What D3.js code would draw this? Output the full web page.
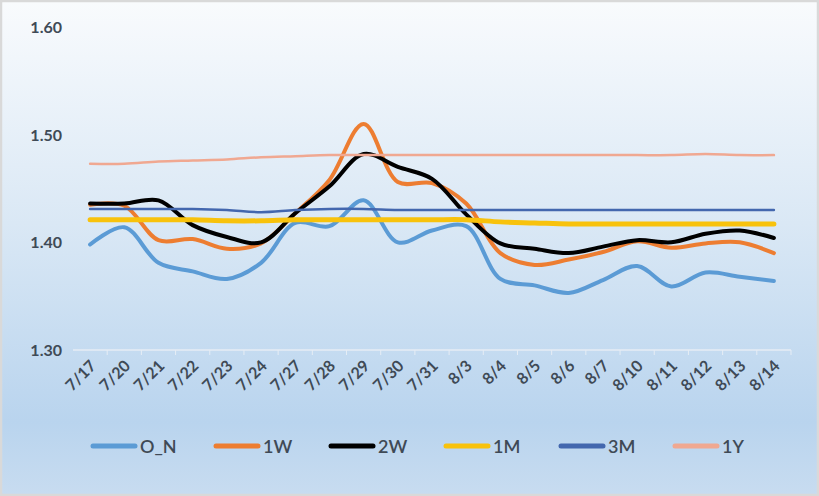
<!DOCTYPE html>
<html lang="en">
<head>
    <meta charset="UTF-8">
    <title>Rates</title>
    <script src="https://d3js.org/d3.v7.min.js"></script>
    <style>
        body { margin: 0; }
        svg { display: block; }
        .tick-y, .tick-x { font-family: Lato, "Open Sans", sans-serif; font-weight: bold; fill: #3f4a56; }
        .legend text { font-family: Lato, "Open Sans", sans-serif; fill: #3f4a56; }
    </style>
</head>
<body>
    <svg width="819" height="496"></svg>
    <script>
        const dates = ["7/17","7/20","7/21","7/22","7/23","7/24","7/27","7/28","7/29","7/30","7/31",
                       "8/3","8/4","8/5","8/6","8/7","8/10","8/11","8/12","8/13","8/14"];
        const yTicks = [1.30, 1.40, 1.50, 1.60];

        const on = [1.398,1.414,1.381,1.373,1.366,1.381,1.418,1.415,1.439,1.400,1.411,
                    1.415,1.366,1.360,1.353,1.365,1.378,1.359,1.372,1.368,1.364];
        const w1 = [1.435,1.434,1.402,1.403,1.394,1.399,1.427,1.458,1.510,1.456,1.455,
                    1.436,1.390,1.379,1.384,1.391,1.401,1.395,1.399,1.400,1.390];
        const w2 = [1.436,1.436,1.439,1.416,1.405,1.400,1.427,1.452,1.482,1.470,1.459,
                    1.426,1.399,1.394,1.390,1.396,1.402,1.400,1.408,1.411,1.404];
        const m1 = [1.421,1.421,1.421,1.421,1.420,1.420,1.421,1.421,1.421,1.421,1.421,
                    1.421,1.419,1.418,1.417,1.417,1.417,1.417,1.417,1.417,1.417];
        const m3 = [1.431,1.431,1.431,1.431,1.430,1.428,1.430,1.431,1.431,1.430,1.430,
                    1.430,1.430,1.430,1.430,1.430,1.430,1.430,1.430,1.430,1.430];
        const y1 = [1.473,1.473,1.475,1.476,1.477,1.479,1.480,1.481,1.481,1.481,1.481,
                    1.481,1.481,1.481,1.481,1.481,1.481,1.481,1.482,1.481,1.481];

        const series = [
            {name: "O_N", values: on, color: "#5b9bd5", width: 4},
            {name: "1W",  values: w1, color: "#ed7d31", width: 4},
            {name: "2W",  values: w2, color: "#000000", width: 4},
            {name: "1M",  values: m1, color: "#f8c20c", width: 5},
            {name: "3M",  values: m3, color: "#4367ae", width: 2.5},
            {name: "1Y",  values: y1, color: "#f0a891", width: 2.5}
        ];

        const svg = d3.select("svg");
        const W = 819, H = 496;

        // background gradient like the Excel preset
        const grad = svg.append("defs").append("linearGradient")
            .attr("id", "bg").attr("x1", 0).attr("y1", 0).attr("x2", 0).attr("y2", 1);
        grad.append("stop").attr("offset", "0%").attr("stop-color", "#f9fbfd");
        grad.append("stop").attr("offset", "45%").attr("stop-color", "#dae8f5");
        grad.append("stop").attr("offset", "85%").attr("stop-color", "#b9d4ee");
        grad.append("stop").attr("offset", "100%").attr("stop-color", "#c8dcf0");

        svg.append("rect").attr("width", W).attr("height", H).attr("fill", "url(#bg)");
        svg.append("rect").attr("x", 1).attr("y", 1).attr("width", W - 2).attr("height", H - 2)
            .attr("fill", "none").attr("stroke", "#d9d9d9").attr("stroke-width", 2.5);

        const x = d3.scaleBand().domain(dates).range([73, 791]);
        const y = d3.scaleLinear().domain([1.30, 1.60]).range([350, 27]);
        const cx = d => x(d) + x.bandwidth() / 2;

        // category axis line + ticks
        const xAxis = svg.append("g")
            .attr("transform", "translate(0,350)")
            .call(d3.axisBottom(x).tickSize(5).tickFormat(""));
        xAxis.select(".domain").attr("stroke", "#e6edf5").attr("stroke-width", 1.5).attr("d", "M73,0H791");
        xAxis.selectAll(".tick line").attr("stroke", "#e6edf5")
            .attr("transform", `translate(${x.bandwidth() / 2},0)`);

        svg.selectAll(".tick-x")
            .data(dates)
            .join("text")
            .attr("class", "tick-x")
            .attr("font-size", 16)
            .attr("text-anchor", "end")
            .attr("transform", d => `translate(${cx(d) + 7},${367}) rotate(-45)`)
            .text(d => d);

        svg.selectAll(".tick-y")
            .data(yTicks)
            .join("text")
            .attr("class", "tick-y")
            .attr("font-size", 16)
            .attr("text-anchor", "end")
            .attr("x", 62)
            .attr("y", d => y(d) + 6)
            .text(d => d.toFixed(2));

        const line = d3.line()
            .x((d, i) => cx(dates[i]))
            .y(d => y(d))
            .curve(d3.curveCatmullRom.alpha(0.5));

        svg.append("g").selectAll("path")
            .data(series)
            .join("path")
            .attr("d", s => line(s.values))
            .attr("fill", "none")
            .attr("stroke", s => s.color)
            .attr("stroke-width", s => s.width)
            .attr("stroke-linejoin", "round")
            .attr("stroke-linecap", "round");

        // legend
        const lx = [93, 216, 331, 446, 561, 675];
        const legend = svg.append("g").attr("class", "legend");
        const item = legend.selectAll("g")
            .data(series)
            .join("g")
            .attr("transform", (s, i) => `translate(${lx[i]},446)`);
        item.append("line")
            .attr("x1", 0).attr("x2", 42)
            .attr("stroke", s => s.color)
            .attr("stroke-width", 5)
            .attr("stroke-linecap", "round");
        item.append("text")
            .attr("x", 47).attr("y", 7)
            .attr("font-size", 18)
            .attr("font-weight", 600)
            .text(s => s.name);
    </script>
</body>
</html>
